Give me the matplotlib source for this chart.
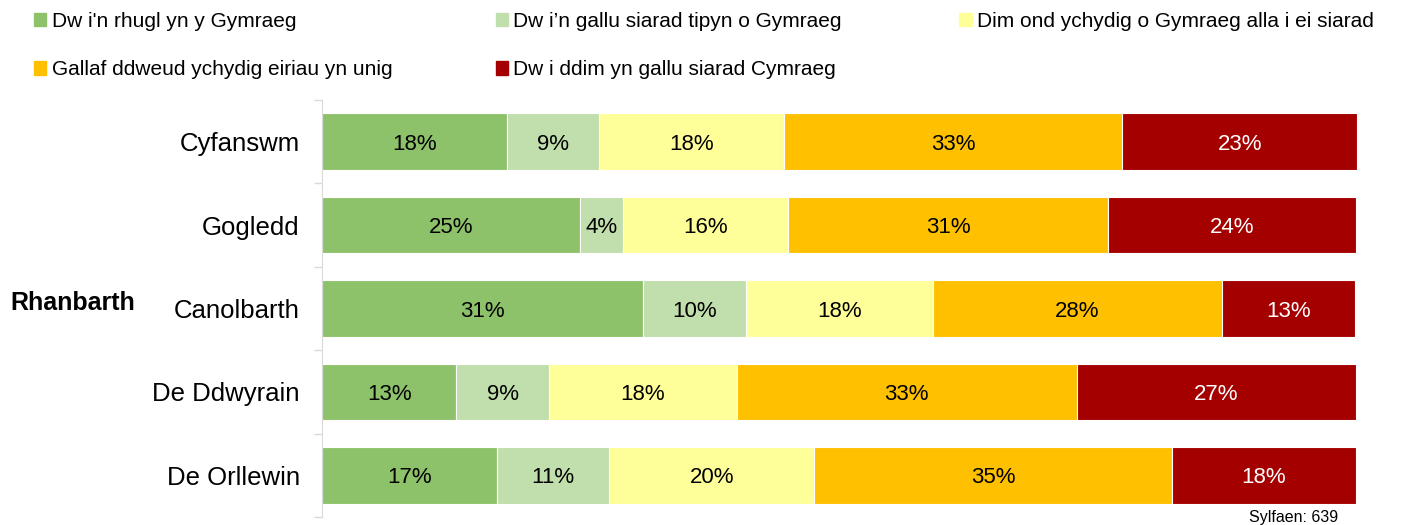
import numpy as np
import matplotlib.pyplot as plt
from matplotlib.patches import Patch

plt.rcParams['font.family'] = ['Liberation Sans', 'DejaVu Sans']

# data
regions = ["Cyfanswm", "Gogledd", "Canolbarth", "De Ddwyrain", "De Orllewin"]
series = ["Dw i'n rhugl yn y Gymraeg",
          "Dw i\u2019n gallu siarad tipyn o Gymraeg",
          "Dim ond ychydig o Gymraeg alla i ei siarad",
          "Gallaf ddweud ychydig eiriau yn unig",
          "Dw i ddim yn gallu siarad Cymraeg"]
rhugl = [17.9, 25.0, 31.0, 13.0, 16.9]
tipyn = [8.9, 4.1, 10.0, 9.0, 10.9]
ychydig = [17.9, 16.0, 18.1, 18.1, 19.8]
geiriau = [32.7, 30.9, 27.9, 32.9, 34.6]
dim = [22.7, 24.0, 12.9, 27.0, 17.8]
labels = [[18, 25, 31, 13, 17],
          [9, 4, 10, 9, 11],
          [18, 16, 18, 18, 20],
          [33, 31, 28, 33, 35],
          [23, 24, 13, 27, 18]]
base = 639

colors = ["#8DC26B", "#C1DFAC", "#FFFF99", "#FFC000", "#A50000"]
text_colors = ["black", "black", "black", "black", "white"]

fig = plt.figure(figsize=(14.17, 5.25), dpi=100)
ax = fig.add_axes([0.2272, 0.0152, 0.7305, 0.7943])

values = [rhugl, tipyn, ychydig, geiriau, dim]
y = np.arange(len(regions))
left = np.zeros(len(regions))
handles = []
for i, vals in enumerate(values):
    vals = np.array(vals)
    bars = ax.barh(y, vals, left=left, height=0.68, color=colors[i],
                   edgecolor="white", linewidth=0.8)
    for b, lab in zip(bars, labels[i]):
        ax.text(b.get_x() + b.get_width() / 2, b.get_y() + b.get_height() / 2,
                f"{lab}%", ha="center", va="center_baseline", fontsize=16,
                color=text_colors[i])
    left += vals
    handles.append(Patch(color=colors[i], label=series[i]))

ax.set_xlim(0, left.max())
ax.set_ylim(len(regions) - 0.5, -0.5)
ax.set_xticks([])
ax.set_yticks(y)
ax.set_yticklabels(regions, fontsize=18.5)
ax.set_yticks(np.arange(-0.5, len(regions)), minor=True)
ax.tick_params(axis="y", which="major", length=0, pad=16)
ax.tick_params(axis="y", which="minor", length=6, color="#D9D9D9", width=1)
for s in ["top", "right", "bottom"]:
    ax.spines[s].set_visible(False)
ax.spines["left"].set_color("#D9D9D9")

# legend entries placed like the original
pos = [(0.018, 0.993), (0.344, 0.993), (0.671, 0.993),
       (0.018, 0.901), (0.344, 0.901)]
for h, (px, py) in zip(handles, pos):
    fig.legend(handles=[h], loc="upper left", bbox_to_anchor=(px, py),
               frameon=False, fontsize=15, handlelength=0.6, handleheight=0.6,
               handletextpad=0.25, borderaxespad=0)

fig.text(0.007, 0.422, "Rhanbarth", fontsize=18, fontweight="bold",
         ha="left", va="center")
fig.text(0.944, 0.0, f"Sylfaen: {base}", fontsize=11.5, ha="right", va="bottom")

fig.savefig("out.png", dpi=100)
